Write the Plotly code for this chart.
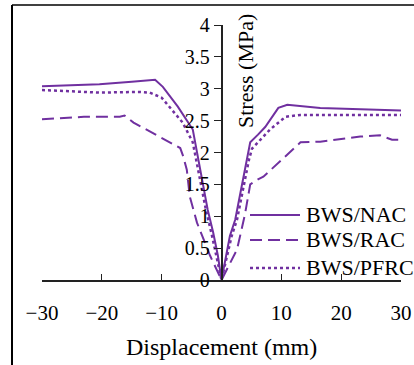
import plotly.graph_objects as go

# ---- data ----
nac_x = [-30, -20.4, -15, -11.1, -9.8, -7.3, -4.8, -3.3, -2.3, -1.4, -0.6, 0,
         1.4, 2.3, 3.4, 4.3, 4.8, 6.1, 7.3, 9.5, 11, 16.5, 25, 30]
nac_y = [3.04, 3.07, 3.11, 3.14, 3.03, 2.72, 2.36, 1.63, 1.10, 0.75, 0.38, 0,
         0.69, 0.95, 1.47, 1.89, 2.16, 2.28, 2.40, 2.70, 2.75, 2.70, 2.67, 2.66]

rac_x = [-30, -23, -17, -16.2, -14.7, -6.9, -6.4, -5.8, -5.3, -4.1, -1.9, 0,
         2.6, 3.9, 4.8, 6.1, 7, 13.2, 16.5, 20, 23.2, 26.5, 28.5, 30]
rac_y = [2.52, 2.56, 2.56, 2.58, 2.47, 2.07, 1.94, 1.73, 1.31, 0.90, 0.38, 0,
         0.48, 1.02, 1.50, 1.58, 1.62, 2.16, 2.17, 2.21, 2.25, 2.27, 2.20, 2.20]

pfrc_x = [-30, -20.4, -13.6, -12, -10, -6.5, -4.8, -3.6, -2.6, -1.6, 0,
          1.7, 2.6, 3.7, 4.6, 5.1, 8.1, 10.7, 13.2, 20, 30]
pfrc_y = [2.98, 2.94, 2.95, 2.94, 2.86, 2.47, 2.16, 1.60, 1.10, 0.70, 0,
          0.69, 0.95, 1.47, 1.89, 2.06, 2.36, 2.56, 2.59, 2.59, 2.59]

series_names = ["BWS/NAC", "BWS/RAC", "BWS/PFRC"]
x_ticks = [-30, -20, -10, 0, 10, 20, 30]
y_ticks = [0, 0.5, 1, 1.5, 2, 2.5, 3, 3.5, 4]
y_tick_text = ["0", "0.5", "1", "1.5", "2", "2.5", "3", "3.5", "4"]
x_title = "Displacement (mm)"
y_title = "Stress (MPa)"

PURPLE = "#7030A0"
FONT = "Liberation Serif, Times New Roman, serif"
W, H = 414, 365
ML, MR, MT, MB = 42, 13, 25, 85
PW, PH = W - ML - MR, H - MT - MB


def px(x):
    return (x - ML) / PW


def py(y):
    return (H - MB - y) / PH


styles = [dict(color=PURPLE, width=2),
          dict(color=PURPLE, width=2, dash="12px,6px"),
          dict(color=PURPLE, width=2.5, dash="3px,3px")]

fig = go.Figure()
for xs, ys, name, st in zip([nac_x, rac_x, pfrc_x], [nac_y, rac_y, pfrc_y],
                            series_names, styles):
    fig.add_trace(go.Scatter(x=xs, y=ys, mode="lines", name=name, line=st,
                             showlegend=False))

# legend drawn as samples + labels (layout of the original legend)
legend_rows = [215, 240, 268]
shapes = []
annotations = []
for name, st, yy in zip(series_names, styles, legend_rows):
    shapes.append(dict(type="line", xref="paper", yref="paper",
                       x0=px(250), x1=px(300), y0=py(yy), y1=py(yy), line=st))
    annotations.append(dict(text=name, xref="paper", yref="paper", x=px(304),
                            y=py(yy - 1), xanchor="left", yanchor="middle",
                            showarrow=False,
                            font=dict(family=FONT, size=22, color="black")))

annotations.append(dict(text=y_title, textangle=-90, xref="paper", yref="paper",
                        x=px(245), y=py(71), xanchor="center", yanchor="middle",
                        showarrow=False,
                        font=dict(family=FONT, size=22, color="black")))
annotations.append(dict(text=x_title, xref="paper", yref="paper",
                        x=px(221), y=py(347), xanchor="center", yanchor="middle",
                        showarrow=False,
                        font=dict(family=FONT, size=24, color="black")))

# outer frame (left and top edges)
shapes.append(dict(type="line", xref="paper", yref="paper",
                   x0=px(12), x1=px(12), y0=py(5), y1=py(370),
                   line=dict(color="black", width=2)))
shapes.append(dict(type="line", xref="paper", yref="paper",
                   x0=px(12), x1=px(420), y0=py(5), y1=py(5),
                   line=dict(color="black", width=1.5)))

fig.update_layout(
    width=W, height=H,
    margin=dict(l=ML, r=MR, t=MT, b=MB, autoexpand=False),
    paper_bgcolor="white", plot_bgcolor="white",
    font=dict(family=FONT, color="black", size=20),
    showlegend=False,
    xaxis=dict(range=[-30, 30], tickvals=x_ticks, ticks="inside", ticklen=6,
               tickcolor="#222", showline=True, linecolor="#222", linewidth=1.5,
               showgrid=False, zeroline=False, ticklabelstandoff=13,
               tickfont=dict(family=FONT, size=21)),
    yaxis=dict(range=[0, 4], tickvals=y_ticks, ticktext=y_tick_text,
               anchor="free", position=0.5, ticks="outside", ticklen=7,
               tickcolor="#222", showline=True, linecolor="#222", linewidth=1.5,
               showgrid=False, zeroline=False,
               tickfont=dict(family=FONT, size=20)),
    annotations=annotations,
    shapes=shapes,
)

fig.write_html("out.html")
